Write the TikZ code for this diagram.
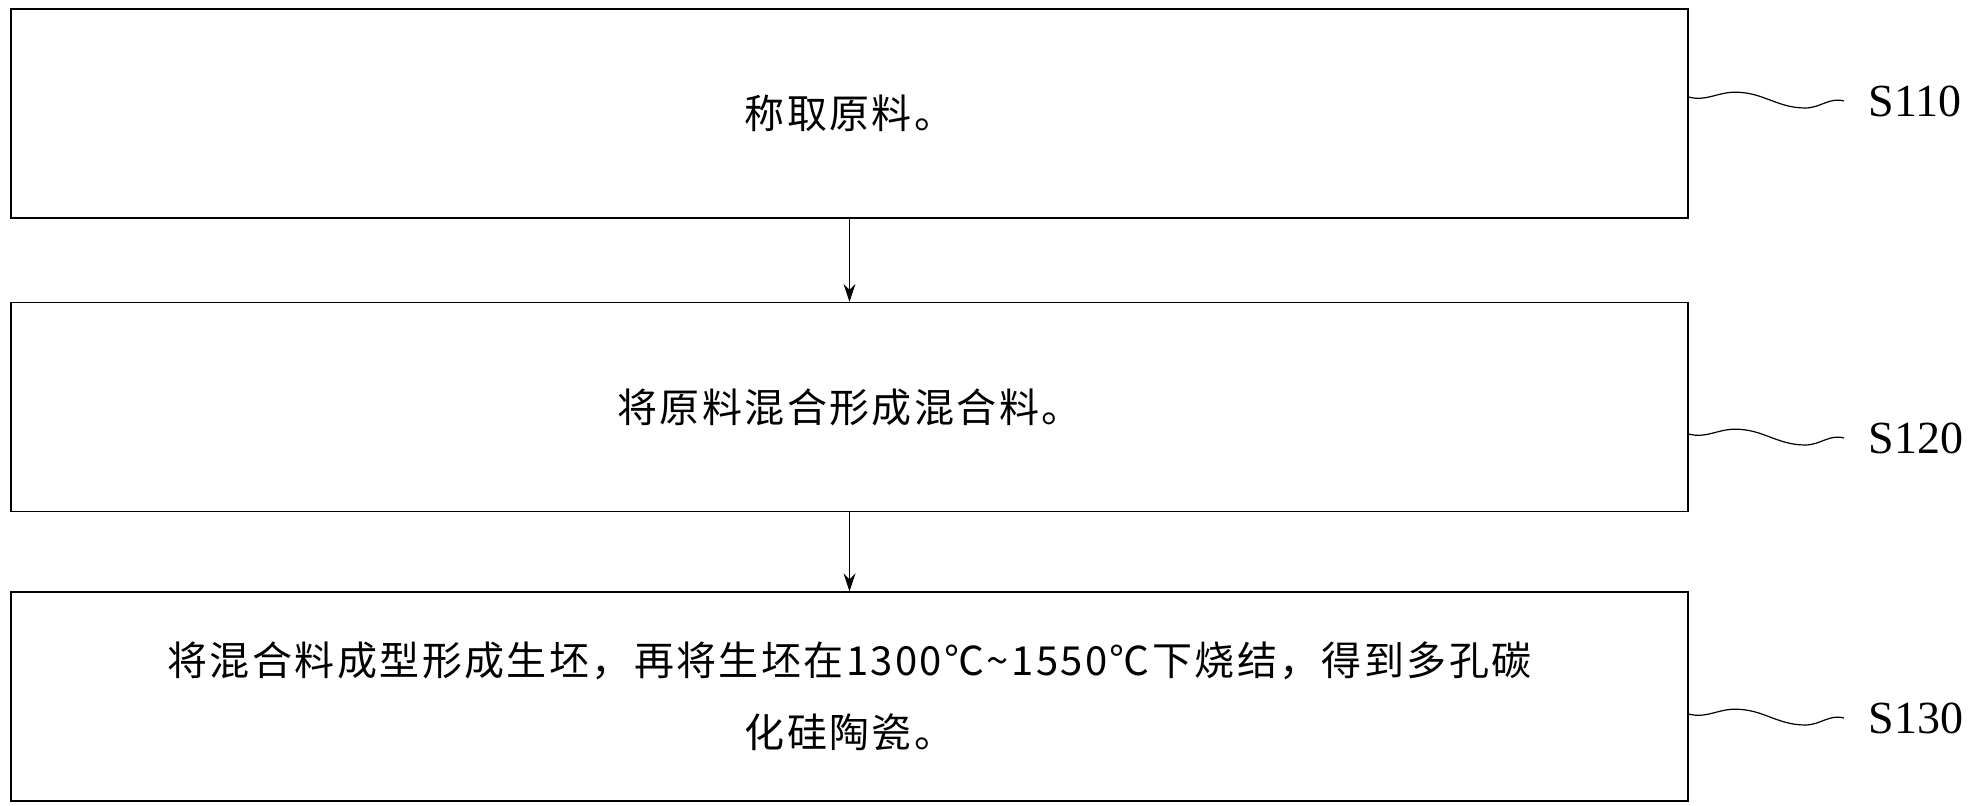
\documentclass[tikz,border=0pt]{standalone}
\usepackage{fontspec}
\setmainfont{Liberation Serif}
\newfontfamily\cjk[LetterSpace=6]{Noto Sans CJK SC}
\usetikzlibrary{arrows.meta,calc}

\begin{document}
\begin{tikzpicture}[x=0.5pt,y=0.5pt,yscale=-1,xscale=1,
  stepbox/.style={draw,line width=0.6pt,minimum width=838.5pt,minimum height=104.5pt,align=center,inner sep=0pt,font=\cjk\fontsize{20}{36}\selectfont},
  steplabel/.style={font=\fontsize{23}{26}\selectfont,anchor=west,inner sep=0pt},
  wave/.style={line width=0.6pt},
  flow/.style={-{Stealth[length=9pt,width=6pt]},line width=0.6pt}]
%bounding box
\useasboundingbox (0,0) rectangle (1974,806);
%Boxes
\node[stepbox] (s110) at (849.5,113.5) {称取原料。};
\node[stepbox] (s120) at (849.5,407) {将原料混合形成混合料。};
\node[stepbox] (s130) at (849.5,696.5) {将混合料成型形成生坯，再将生坯在1300℃\textasciitilde1550℃下烧结，得到多孔碳\\化硅陶瓷。};
%Labels
\node[steplabel] (l110) at (1868,101) {S110};
\node[steplabel] (l120) at (1868,438) {S120};
\node[steplabel] (l130) at (1868,718) {S130};
%Arrows
\draw[flow] (s110) -- (s120);
\draw[flow] (s120) -- (s130);
%Waves
\foreach \s in {110,120,130}{
  \coordinate (b\s) at ([yshift=-2pt]s\s.east |- l\s.west);
  \coordinate (e\s) at ([xshift=-12pt]l\s.west);
  \draw[wave] (b\s) to[out=15,in=180] ($(b\s)!0.3!(e\s)+(0,-6)$)
    to[out=0,in=180] ($(b\s)!0.75!(e\s)+(0,8)$) to[out=0,in=195] (e\s);
}
\end{tikzpicture}
\end{document}
